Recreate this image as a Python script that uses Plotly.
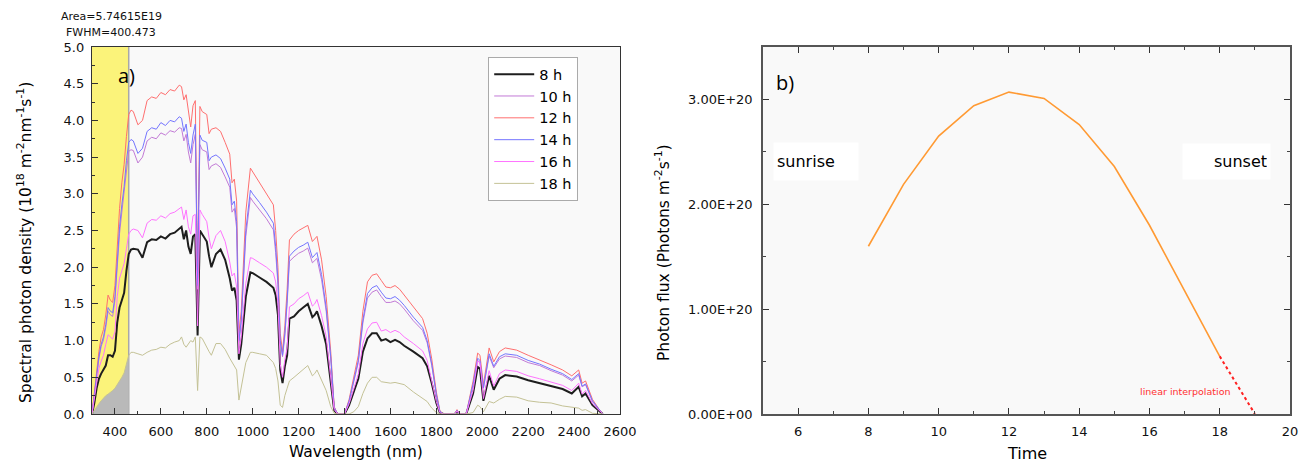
import plotly.graph_objects as go

# ---------------- Panel a) data (wavelength grid, nm) ----------------
wavelength = [
    300, 310, 320, 330, 340, 350, 360, 370, 380, 390,
    400, 410, 420, 430, 440, 450, 460, 470, 480, 500,
    520, 540, 560, 580, 600, 620, 640, 660, 680, 690,
    700, 710, 720, 730, 740, 750, 760, 765, 770, 780,
    800, 810, 820, 840, 860, 880, 900, 910, 920, 930,
    940, 950, 970, 990, 1000, 1030, 1060, 1090, 1100, 1110,
    1120, 1130, 1140, 1150, 1160, 1180, 1200, 1220, 1240, 1260,
    1270, 1280, 1300, 1320, 1340, 1355, 1370, 1400, 1420, 1440,
    1460, 1480, 1500, 1520, 1540, 1560, 1580, 1600, 1620, 1640,
    1660, 1700, 1740, 1760, 1780, 1800, 1815, 1830, 1880, 1890,
    1900, 1930, 1960, 1980, 1990, 2005, 2030, 2050, 2075, 2100,
    2150, 2200, 2250, 2300, 2350, 2390, 2420, 2435, 2450, 2480,
    2510, 2525,
]

h8 = [
    0.00, 0.15, 0.35, 0.48, 0.55, 0.60, 0.66, 0.80, 0.80, 0.78,
    0.86, 1.25, 1.45, 1.55, 1.65, 1.95, 2.18, 2.24, 2.25, 2.24,
    2.13, 2.34, 2.38, 2.37, 2.42, 2.39, 2.45, 2.47, 2.52, 2.55,
    2.38, 2.50, 2.28, 2.18, 2.42, 2.45, 1.07, 1.80, 2.50, 2.45,
    2.35, 2.15, 2.00, 2.18, 2.24, 2.10, 1.85, 1.68, 1.72, 1.55,
    0.74, 0.95, 1.60, 1.93, 1.92, 1.86, 1.80, 1.72, 1.62, 1.35,
    0.60, 0.42, 0.65, 0.80, 1.30, 1.33, 1.40, 1.45, 1.50, 1.32,
    1.35, 1.40, 1.20, 0.95, 0.45, 0.05, 0.00, 0.00, 0.12, 0.30,
    0.48, 0.85, 1.03, 1.10, 1.10, 1.00, 1.02, 0.98, 1.01, 0.98,
    0.93, 0.85, 0.76, 0.65, 0.42, 0.15, 0.02, 0.00, 0.00, 0.03,
    0.00, 0.00, 0.28, 0.64, 0.62, 0.18, 0.52, 0.33, 0.48, 0.53,
    0.51, 0.46, 0.42, 0.38, 0.34, 0.28, 0.37, 0.24, 0.28, 0.12,
    0.04, 0.00,
]

h10 = [
    0.00, 0.26, 0.53, 0.75, 0.92, 1.01, 1.18, 1.40, 1.35, 1.33,
    1.55, 2.03, 2.46, 2.75, 3.00, 3.33, 3.58, 3.60, 3.59, 3.42,
    3.50, 3.72, 3.77, 3.75, 3.83, 3.80, 3.86, 3.84, 3.90, 3.89,
    3.72, 3.81, 3.57, 3.42, 3.67, 3.81, 1.70, 2.80, 3.67, 3.60,
    3.57, 3.33, 3.38, 3.41, 3.36, 3.23, 3.09, 2.75, 2.80, 2.53,
    0.97, 1.24, 2.42, 2.95, 2.90, 2.78, 2.66, 2.51, 2.20, 1.76,
    0.97, 0.78, 1.06, 1.50, 2.08, 2.14, 2.19, 2.22, 2.26, 2.06,
    2.09, 2.12, 1.83, 1.40, 0.75, 0.09, 0.00, 0.00, 0.17, 0.44,
    0.70, 1.24, 1.58, 1.66, 1.69, 1.60, 1.52, 1.52, 1.54, 1.50,
    1.43, 1.27, 1.14, 0.97, 0.66, 0.26, 0.04, 0.00, 0.00, 0.05,
    0.00, 0.00, 0.40, 0.73, 0.70, 0.35, 0.79, 0.63, 0.75, 0.79,
    0.77, 0.70, 0.66, 0.59, 0.53, 0.45, 0.53, 0.37, 0.40, 0.17,
    0.05, 0.00,
]

h12 = [
    0.00, 0.30, 0.60, 0.85, 1.05, 1.15, 1.35, 1.62, 1.55, 1.52,
    1.75, 2.30, 2.80, 3.15, 3.40, 3.78, 4.08, 4.14, 4.12, 3.94,
    4.00, 4.27, 4.32, 4.30, 4.38, 4.35, 4.42, 4.40, 4.48, 4.46,
    4.28, 4.35, 4.10, 3.91, 4.20, 4.27, 1.90, 3.20, 4.19, 4.12,
    4.08, 3.82, 3.88, 3.90, 3.85, 3.70, 3.54, 3.15, 3.20, 2.90,
    1.10, 1.40, 2.75, 3.35, 3.30, 3.15, 3.00, 2.85, 2.50, 2.00,
    1.10, 0.85, 1.20, 1.70, 2.37, 2.45, 2.50, 2.53, 2.57, 2.35,
    2.38, 2.42, 2.10, 1.60, 0.85, 0.10, 0.00, 0.00, 0.20, 0.50,
    0.80, 1.40, 1.80, 1.89, 1.91, 1.82, 1.73, 1.72, 1.75, 1.70,
    1.62, 1.45, 1.30, 1.10, 0.75, 0.30, 0.05, 0.00, 0.00, 0.06,
    0.00, 0.00, 0.45, 0.83, 0.80, 0.40, 0.90, 0.71, 0.85, 0.90,
    0.87, 0.80, 0.74, 0.67, 0.60, 0.52, 0.60, 0.42, 0.45, 0.20,
    0.06, 0.00,
]

h14 = [
    0.00, 0.27, 0.55, 0.78, 0.95, 1.05, 1.22, 1.45, 1.40, 1.38,
    1.60, 2.10, 2.55, 2.85, 3.10, 3.45, 3.70, 3.74, 3.72, 3.55,
    3.62, 3.85, 3.90, 3.88, 3.97, 3.93, 4.00, 3.98, 4.05, 4.03,
    3.85, 3.95, 3.70, 3.55, 3.80, 3.95, 1.75, 2.90, 3.80, 3.73,
    3.70, 3.45, 3.50, 3.53, 3.48, 3.35, 3.20, 2.85, 2.90, 2.62,
    1.00, 1.28, 2.50, 3.05, 3.00, 2.88, 2.75, 2.60, 2.28, 1.82,
    1.00, 0.80, 1.10, 1.55, 2.15, 2.22, 2.27, 2.30, 2.34, 2.13,
    2.16, 2.20, 1.90, 1.45, 0.78, 0.09, 0.00, 0.00, 0.18, 0.46,
    0.73, 1.28, 1.64, 1.72, 1.75, 1.66, 1.58, 1.57, 1.60, 1.55,
    1.48, 1.32, 1.18, 1.00, 0.68, 0.27, 0.04, 0.00, 0.00, 0.05,
    0.00, 0.00, 0.41, 0.76, 0.73, 0.36, 0.82, 0.65, 0.78, 0.82,
    0.80, 0.73, 0.68, 0.61, 0.55, 0.47, 0.55, 0.38, 0.41, 0.18,
    0.05, 0.00,
]

h16 = [
    0.00, 0.20, 0.45, 0.62, 0.72, 0.80, 0.95, 1.08, 1.05, 1.02,
    1.12, 1.60, 1.85, 1.95, 2.05, 2.25, 2.45, 2.50, 2.52, 2.50,
    2.40, 2.60, 2.65, 2.64, 2.70, 2.67, 2.73, 2.75, 2.80, 2.82,
    2.65, 2.78, 2.55, 2.45, 2.70, 2.72, 1.20, 2.00, 2.78, 2.72,
    2.62, 2.40, 2.25, 2.43, 2.50, 2.35, 2.07, 1.88, 1.92, 1.73,
    0.82, 1.05, 1.78, 2.13, 2.12, 2.06, 2.00, 1.92, 1.80, 1.50,
    0.68, 0.50, 0.74, 0.90, 1.46, 1.50, 1.57, 1.61, 1.66, 1.47,
    1.50, 1.56, 1.34, 1.06, 0.50, 0.06, 0.00, 0.00, 0.14, 0.34,
    0.54, 0.96, 1.16, 1.24, 1.25, 1.13, 1.15, 1.11, 1.14, 1.11,
    1.05, 0.96, 0.86, 0.73, 0.47, 0.17, 0.02, 0.00, 0.00, 0.04,
    0.00, 0.00, 0.32, 0.72, 0.70, 0.21, 0.59, 0.38, 0.55, 0.60,
    0.58, 0.52, 0.48, 0.43, 0.39, 0.32, 0.42, 0.27, 0.32, 0.14,
    0.04, 0.00,
]

h18 = [
    0.00, 0.05, 0.10, 0.14, 0.18, 0.22, 0.25, 0.27, 0.29, 0.32,
    0.35, 0.40, 0.44, 0.50, 0.56, 0.68, 0.80, 0.84, 0.84, 0.82,
    0.80, 0.84, 0.87, 0.88, 0.91, 0.90, 0.95, 0.98, 1.00, 1.05,
    0.95, 0.91, 0.96, 1.00, 0.98, 1.05, 0.32, 0.75, 1.05, 1.03,
    0.90, 0.85, 0.80, 0.96, 0.96, 0.88, 0.76, 0.70, 0.66, 0.60,
    0.19, 0.35, 0.70, 0.84, 0.84, 0.82, 0.80, 0.70, 0.62, 0.45,
    0.12, 0.09, 0.25, 0.35, 0.45, 0.50, 0.55, 0.60, 0.66, 0.52,
    0.55, 0.60, 0.45, 0.32, 0.10, 0.01, 0.00, 0.00, 0.00, 0.03,
    0.10, 0.28, 0.42, 0.50, 0.50, 0.44, 0.43, 0.42, 0.43, 0.42,
    0.40, 0.30, 0.22, 0.17, 0.08, 0.02, 0.00, 0.00, 0.00, 0.00,
    0.00, 0.00, 0.02, 0.12, 0.10, 0.03, 0.17, 0.15, 0.20, 0.24,
    0.23, 0.18, 0.16, 0.15, 0.11, 0.09, 0.08, 0.05, 0.06, 0.01,
    0.00, 0.00,
]

series_names = ["8 h", "10 h", "12 h", "14 h", "16 h", "18 h"]
series_values = [h8, h10, h12, h14, h16, h18]
series_colors = ["#1e1e1e", "#c27ad6", "#ff6f6f", "#7575ff", "#ff73ff", "#c4c296"]
series_widths = [2.0, 1.0, 1.0, 1.0, 1.0, 1.0]

band_start, band_end = 300, 460   # highlighted (yellow) band, nm

# ---------------- Panel b) data ----------------
hours = [8, 9, 10, 11, 12, 13, 14, 15, 16, 17, 18]
photon_flux = [1.60e20, 2.19e20, 2.65e20, 2.94e20, 3.07e20, 3.01e20,
               2.76e20, 2.36e20, 1.80e20, 1.17e20, 0.55e20]
interp_hours = [18, 19]
interp_flux = [0.55e20, 0.0]

flux_tickvals = [0, 1e20, 2e20, 3e20]
flux_ticktext = ["0.00E+00", "1.00E+20", "2.00E+20", "3.00E+20"]

# ---------------- Figure ----------------
# the page body has an 8 px margin, so the figure sits at (8, 8) in the window
VIEW_W, VIEW_H, OFF = 1307, 470, 8
W, H = VIEW_W - OFF, VIEW_H - OFF
def px(x):
    return (x - OFF) / W
def py(y):
    return 1 - (y - OFF) / H

fig = go.Figure()

# gray fill under 18 h curve inside the band
band_x = [w for w in wavelength if w <= band_end]
band_y = h18[:len(band_x)]
fig.add_trace(go.Scatter(x=band_x, y=band_y, mode="lines", fill="tozeroy",
                         fillcolor="#b9b9b9", line=dict(width=0, color="#b9b9b9"),
                         showlegend=False, hoverinfo="skip", xaxis="x", yaxis="y"))

for name, vals, col, lw in zip(series_names, series_values, series_colors, series_widths):
    fig.add_trace(go.Scatter(x=wavelength, y=vals, mode="lines", name=name,
                             line=dict(color=col, width=lw), xaxis="x", yaxis="y"))

fig.add_trace(go.Scatter(x=hours, y=photon_flux, mode="lines",
                         line=dict(color="#ff9a33", width=1.6), showlegend=False,
                         xaxis="x2", yaxis="y2"))
fig.add_trace(go.Scatter(x=interp_hours, y=interp_flux, mode="lines",
                         line=dict(color="#ff2020", width=2, dash="dot"), showlegend=False,
                         xaxis="x2", yaxis="y2"))

FONT = "DejaVu Sans, Verdana, sans-serif"
axis_common = dict(showline=True, linecolor="#333333", linewidth=1.3, mirror=True,
                   ticks="inside", ticklen=6, tickcolor="#333333", showgrid=False,
                   zeroline=False, automargin=False,
                   tickfont=dict(family=FONT, size=13, color="#111"))

def ann(text, x, y, size, color="#000", family=FONT, **kw):
    return dict(text=text, x=px(x), y=py(y), xref="paper", yref="paper",
                xanchor="center", yanchor="middle", showarrow=False,
                font=dict(family=family, size=size, color=color), **kw)

fig.update_layout(
    template="none",
    width=W, height=H,
    margin=dict(l=0, r=0, t=0, b=0, pad=0, autoexpand=False),
    paper_bgcolor="white", plot_bgcolor="#f9f9f9",
    font=dict(family=FONT, color="#111"),
    xaxis=dict(domain=[px(92), px(620)], range=[300, 2600], anchor="y",
               tick0=0, dtick=200,
               minor=dict(ticks="inside", ticklen=3, dtick=100, tick0=300, tickcolor="#333"),
               ticklabelstandoff=5,
               **axis_common),
    yaxis=dict(domain=[py(414), py(47)], range=[0, 5], anchor="x",
               dtick=0.5, tickformat=".1f",
               minor=dict(ticks="inside", ticklen=3, dtick=0.25, tickcolor="#333"),
               ticklabelstandoff=4,
               **axis_common),
    xaxis2=dict(domain=[px(763), px(1290)], range=[5, 20], anchor="y2",
                tick0=0, dtick=2,
                minor=dict(ticks="inside", ticklen=3, dtick=1, tickcolor="#444"),
                ticklabelstandoff=5,
                **{**axis_common, "mirror": "allticks", "linecolor": "#555", "linewidth": 1.6}),
    yaxis2=dict(domain=[py(414), py(47)], range=[0, 3.5e20], anchor="x2",
                tickmode="array", tickvals=flux_tickvals, ticktext=flux_ticktext,
                minor=dict(ticks="inside", ticklen=3, tickmode="array",
                           tickvals=[0.5e20, 1.5e20, 2.5e20], tickcolor="#444"),
                ticklabelstandoff=6,
                **{**axis_common, "mirror": "allticks", "linecolor": "#555", "linewidth": 1.6,
                   "tickfont": dict(family=FONT, size=13, color="#111")}),
    legend=dict(x=px(488), y=py(57), xanchor="left", yanchor="top",
                bgcolor="white", bordercolor="#aaaaaa", borderwidth=1.2,
                font=dict(family=FONT, size=14.5, color="#000"),
                tracegroupgap=0, itemwidth=40),
    shapes=[
        dict(type="rect", xref="x", yref="y", x0=band_start, x1=band_end, y0=0, y1=5,
             fillcolor="#fbf37a", line=dict(width=0), layer="below"),
        dict(type="line", xref="x", yref="y", x0=band_end, x1=band_end, y0=0, y1=5,
             line=dict(color="#a8a8a8", width=1.5), layer="below"),
    ],
    annotations=[
        ann("Area=5.74615E19", 111, 17, 11, "#111"),
        ann("FWHM=400.473", 111, 32, 11, "#111"),
        ann("a)", 126, 75, 20, family="Open Sans, sans-serif"),
        ann("b)", 785, 82, 20, family="Open Sans, sans-serif"),
        ann("Spectral photon density (10<sup>18</sup> m<sup>-2</sup>nm<sup>-1</sup>s<sup>-1</sup>)",
            24, 243, 15.5, textangle=-90),
        ann("Wavelength (nm)", 356, 452, 15.5),
        ann("Photon flux (Photons m<sup>-2</sup>s<sup>-1</sup>)", 662, 253, 15.5, textangle=-90),
        ann("Time", 1027, 453, 16),
        ann("sunrise", 816, 161, 16, bgcolor="white", width=78, height=31,
            align="left", borderpad=3),
        ann("sunset", 1226, 161, 16, bgcolor="white", width=81, height=29,
            align="right", borderpad=3),
        ann("linear interpolation", 1185, 391, 9.5, "#ff3030"),
    ],
)

fig.write_html("out.html")
